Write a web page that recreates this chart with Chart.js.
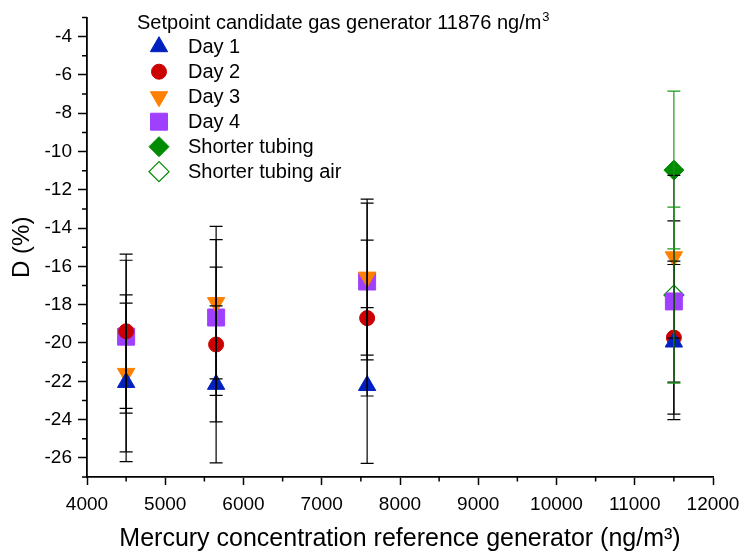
<!DOCTYPE html>
<html>
<head>
<meta charset="utf-8">
<script src="https://cdn.jsdelivr.net/npm/chart.js@4.4.0/dist/chart.umd.min.js"></script>
<style>
  html, body { margin: 0; padding: 0; background: #fff; }
  #wrap { width: 742px; height: 554px; }
</style>
</head>
<body>
<div id="wrap"><canvas id="chart" width="742" height="554"></canvas></div>
<script>
// reference concentrations (ng/m3)
const concentrations = [4500, 5650, 7580, 11500];

// D (%) per day, with error bars
const day1 = [-22.06, -22.16, -22.22, -19.95];
const day1Err = [4.14, 4.1, 4.07, 4.05];
const day2 = [-19.39, -20.08, -18.7, -19.72];
const day2Err = [4.03, 4.04, 4.07, 4.0];
const day3 = [-21.59, -17.89, -16.56, -15.5];
const day3Err = [4.1, 3.98, 4.07, 4.25];
const day4 = [-19.67, -18.67, -16.79, -17.83];
const day4Err = [3.99, 4.07, 4.09, 4.21];

// shorter tubing runs (only at the highest concentration)
const shortConc = [11500];
const shortTubing = [-10.97];
const shortTubingErr = [4.12];
const shortAir = [-17.5];
const shortAirErr = [4.6];

const xTicks = [4000, 5000, 6000, 7000, 8000, 9000, 10000, 11000, 12000];
const yTicks = [-26, -24, -22, -20, -18, -16, -14, -12, -10, -8, -6, -4];

const FONT = "'Liberation Sans', Arial, sans-serif";

function pts(xs, ys) {
  return xs.map((x, i) => ({ x: x, y: ys[i] }));
}

const datasets = [
  { label: 'Day 1', data: pts(concentrations, day1), errors: day1Err, errColor: '#000',
    pointStyle: 'triangle', pointRadius: 10, rotation: 0,
    backgroundColor: '#0020c0', borderColor: '#0020c0', borderWidth: 1 },
  { label: 'Day 2', data: pts(concentrations, day2), errors: day2Err, errColor: '#000',
    pointStyle: 'circle', pointRadius: 7.5, rotation: 0,
    backgroundColor: '#cc0000', borderColor: '#cc0000', borderWidth: 1 },
  { label: 'Day 3', data: pts(concentrations, day3), errors: day3Err, errColor: '#000',
    pointStyle: 'triangle', pointRadius: 10, rotation: 180,
    backgroundColor: '#ff8000', borderColor: '#ff8000', borderWidth: 1 },
  { label: 'Day 4', data: pts(concentrations, day4), errors: day4Err, errColor: '#000',
    pointStyle: 'rect', pointRadius: 12, rotation: 0,
    backgroundColor: '#a040ff', borderColor: '#a040ff', borderWidth: 1 },
  { label: 'Shorter tubing', data: pts(shortConc, shortTubing), errors: shortTubingErr, errColor: '#1a9a1a',
    pointStyle: 'rectRot', pointRadius: 10, rotation: 0,
    backgroundColor: '#008c00', borderColor: '#008c00', borderWidth: 1 },
  { label: 'Shorter tubing air', data: pts(shortConc, shortAir), errors: shortAirErr, errColor: '#1a9a1a',
    pointStyle: 'rectRot', pointRadius: 10, rotation: 0,
    backgroundColor: 'rgba(255,255,255,0)', borderColor: '#008c00', borderWidth: 1.2 }
];
datasets.forEach(d => { d.pointRotation = d.rotation; d.pointHoverRadius = d.pointRadius; });

// error bars on top of the markers
const errorBars = {
  id: 'errorBars',
  afterDatasetsDraw(chart) {
    const ctx = chart.ctx;
    const ys = chart.scales.y;
    ctx.save();
    chart.data.datasets.forEach((ds, i) => {
      const meta = chart.getDatasetMeta(i);
      ctx.strokeStyle = ds.errColor;
      ctx.lineWidth = 1.2;
      meta.data.forEach((pt, j) => {
        const v = ds.data[j].y, e = ds.errors[j];
        const top = ys.getPixelForValue(v + e);
        const bot = ys.getPixelForValue(v - e);
        const x = pt.x;
        ctx.beginPath();
        ctx.moveTo(x, top); ctx.lineTo(x, bot);
        ctx.moveTo(x - 6.5, top); ctx.lineTo(x + 6.5, top);
        ctx.moveTo(x - 6.5, bot); ctx.lineTo(x + 6.5, bot);
        ctx.stroke();
      });
    });
    ctx.restore();
  }
};

// minor ticks between the labelled ones
const minorTicks = {
  id: 'minorTicks',
  afterDraw(chart) {
    const ctx = chart.ctx;
    const xs = chart.scales.x, ys = chart.scales.y;
    const a = chart.chartArea;
    ctx.save();
    ctx.strokeStyle = '#000';
    ctx.lineWidth = 1.5;
    ctx.beginPath();
    for (let v = 4500; v < 12000; v += 1000) {
      const px = xs.getPixelForValue(v);
      ctx.moveTo(px, a.bottom); ctx.lineTo(px, a.bottom + 4.5);
    }
    for (let v = -27; v <= -3; v += 2) {
      const py = ys.getPixelForValue(v);
      ctx.moveTo(a.left - 5, py); ctx.lineTo(a.left, py);
    }
    ctx.stroke();
    ctx.restore();
  }
};

// legend block inside the plot area
const insideLegend = {
  id: 'insideLegend',
  afterDraw(chart) {
    const ctx = chart.ctx;
    ctx.save();
    ctx.fillStyle = '#000';
    ctx.font = '20px ' + FONT;
    ctx.textBaseline = 'alphabetic';
    ctx.textAlign = 'left';
    const title = 'Setpoint candidate gas generator 11876 ng/m';
    ctx.fillText(title, 137, 29);
    const w = ctx.measureText(title).width;
    ctx.font = '13px ' + FONT;
    ctx.fillText('3', 137 + w + 1, 21);

    chart.data.datasets.forEach((ds, i) => {
      const y = 46.7 + i * 25;
      ctx.fillStyle = ds.backgroundColor;
      ctx.strokeStyle = ds.borderColor;
      ctx.lineWidth = ds.borderWidth;
      Chart.helpers.drawPoint(ctx, {
        pointStyle: ds.pointStyle, radius: ds.pointRadius,
        rotation: ds.rotation, borderWidth: ds.borderWidth
      }, 159, y);
      ctx.fillStyle = '#000';
      ctx.font = '20px ' + FONT;
      ctx.textBaseline = 'middle';
      ctx.fillText(ds.label, 188, y + 1);
    });
    ctx.restore();
  }
};

new Chart(document.getElementById('chart').getContext('2d'), {
  type: 'scatter',
  data: { datasets: datasets },
  options: {
    responsive: false,
    devicePixelRatio: 1,
    animation: false,
    layout: { padding: { left: 0, right: 29, top: 17.5, bottom: 0 } },
    plugins: {
      legend: { display: false },
      tooltip: { enabled: false }
    },
    scales: {
      x: {
        type: 'linear',
        min: 4000,
        max: 12000,
        afterBuildTicks: s => { s.ticks = xTicks.map(v => ({ value: v })); },
        afterFit: s => { s.height = 77; s.paddingLeft = 0; s.paddingRight = 0; },
        ticks: { color: '#000', font: { family: FONT, size: 19 }, padding: 8, maxRotation: 0,
                 callback: v => String(v) },
        grid: { drawOnChartArea: false, drawTicks: true, tickLength: 8, tickColor: '#000', tickWidth: 1.5 },
        border: { display: true, color: '#000', width: 1.8 },
        title: { display: true, text: 'Mercury concentration reference generator (ng/m³)',
                 color: '#000', font: { family: FONT, size: 25 }, padding: { top: 0, bottom: 0 } }
      },
      y: {
        type: 'linear',
        min: -27,
        max: -3,
        afterBuildTicks: s => { s.ticks = yTicks.map(v => ({ value: v })); },
        afterFit: s => { s.width = 87; s.paddingTop = 0; s.paddingBottom = 0; },
        ticks: { color: '#000', font: { family: FONT, size: 19 }, padding: 6,
                 callback: v => String(v) },
        grid: { drawOnChartArea: false, drawTicks: true, tickLength: 9, tickColor: '#000', tickWidth: 1.5 },
        border: { display: true, color: '#000', width: 1.8 },
        title: { display: true, text: 'D (%)', color: '#000',
                 font: { family: FONT, size: 24 }, padding: { top: 8, bottom: 0 } }
      }
    }
  },
  plugins: [errorBars, minorTicks, insideLegend]
});
</script>
</body>
</html>
